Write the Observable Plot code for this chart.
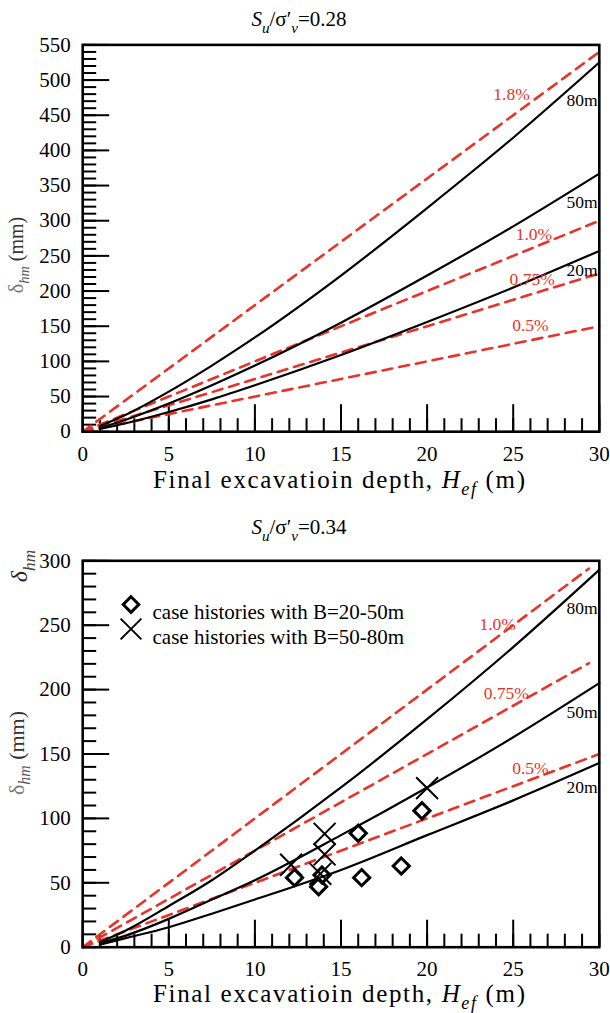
<!DOCTYPE html>
<html><head><meta charset="utf-8">
<script src="https://cdn.jsdelivr.net/npm/d3@7"></script>
<script src="https://cdn.jsdelivr.net/npm/@observablehq/plot@0.6"></script>
<style>
html,body{margin:0;padding:0;background:#fff;}
#wrap{position:relative;width:610px;height:1013px;overflow:hidden;}
#top,#bot{position:absolute;left:0;}
#top{top:0;} #bot{top:500px;}
</style></head><body><div id="wrap"><div id="top"></div><div id="bot"></div></div>
<script>
// ---------- data ----------
const depths = [1, 2.5, 5, 7.5, 10, 15, 20, 25, 30];
const widthLabels = ["80m", "50m", "20m"];
const topCurve80 = [8, 24, 57, 94, 134, 222, 318, 418, 525];
const topCurve50 = [5, 17, 40, 66, 94, 155, 222, 292, 367];
const topCurve20 = [4, 12, 28, 46, 66, 109, 156, 205, 257];
const botCurve80 = [4, 13, 32, 52, 75, 124, 177, 233, 293];
const botCurve50 = [3, 9, 22, 37, 52, 87, 124, 163, 205];
const botCurve20 = [2, 7, 15.5, 26, 37, 60, 87, 114, 143];

const topRatioLabels = ["1.8%", "1.0%", "0.75%", "0.5%"];
const topRatioEndH = [30, 30, 30, 30];
const topRatioEndD = [540, 300, 225, 150];
const botRatioLabels = ["1.0%", "0.75%", "0.5%"];
const botRatioEndH = [29.4, 29.4, 30];
const botRatioEndD = [294, 220.5, 150];

const diamondH = [12.3, 13.7, 13.9, 16.0, 16.2, 18.5, 19.7];
const diamondD = [54, 47, 56, 88.5, 54, 63, 106];
const crossH = [12.1, 14.05, 14.05, 13.8, 20.0];
const crossD = [64, 88, 72, 57, 123.5];
const legendLabels = ["case histories with B=20-50m", "case histories with B=50-80m"];

const topTitle = "0.28", botTitle = "0.34";
const xMajor = [0, 5, 10, 15, 20, 25, 30];
const yMajorTop = [0, 50, 100, 150, 200, 250, 300, 350, 400, 450, 500, 550];
const yMajorBot = [0, 50, 100, 150, 200, 250, 300];

// ---------- helpers ----------
const RED = "#e8332b";
const FONT = "'Liberation Serif','Times New Roman',serif";
const W = 610, ML = 82.2, MR = 11.2, PW = W - ML - MR;

function curveRows(arrs) {
  const rows = [];
  arrs.forEach((a, i) => a.forEach((d, j) => rows.push({B: widthLabels[i], H: depths[j], d})));
  return rows;
}
function ratioRows(labels, endH, endD) {
  const rows = [];
  labels.forEach((l, i) => { rows.push({r: l, H: 0, d: 0}); rows.push({r: l, H: endH[i], d: endD[i]}); });
  return rows;
}

function addRich(svg, x, y, parts, {size = 18, anchor = "middle", rotate = 0, fill = "black", textLength = null} = {}) {
  const g = d3.select(svg).append("g").attr("transform", `translate(${x},${y}) rotate(${rotate})`);
  const t = g.append("text").attr("text-anchor", anchor).attr("font-family", FONT)
    .attr("font-size", size).attr("fill", fill).attr("dy", "0.35em");
  if (textLength) t.attr("textLength", textLength).attr("lengthAdjust", "spacing");
  let shifted = 0;
  parts.forEach(p => {
    const ts = t.append("tspan").text(p.t);
    const target = p.sub ? size * 0.3 : 0;
    if (target !== shifted) { ts.attr("dy", target - shifted); shifted = target; }
    if (p.sub) ts.attr("font-size", size * 0.72);
    if (p.italic) ts.attr("font-style", "italic");
    if (p.fill) ts.attr("fill", p.fill);
    if (p.weight) ts.attr("font-weight", p.weight);
  });
}

function makeChart({height, mt, mb, yMax, yMajor, curves, ratios, redLabels, blackLabels, extra = []}) {
  const PH = height - mt - mb;
  const yMinor = d3.range(0, yMax + 1, 10);
  const xMinor = d3.range(0, 31, 1);
  return Plot.plot({
    width: W, height, marginLeft: ML, marginRight: MR, marginTop: mt, marginBottom: mb,
    style: {fontFamily: FONT, fontSize: "21px", color: "black", background: "white", overflow: "visible"},
    x: {domain: [0, 30]},
    y: {domain: [0, yMax]},
    marks: [
      Plot.tickY(yMinor, {y: d => d, insetRight: PW - 14, stroke: "black", strokeWidth: 2}),
      Plot.tickY(yMajor, {y: d => d, insetRight: PW - 27, stroke: "black", strokeWidth: 2}),
      Plot.tickX(xMinor, {x: d => d, insetTop: PH - 13, stroke: "black", strokeWidth: 2}),
      Plot.tickX(xMajor, {x: d => d, insetTop: PH - 27, stroke: "black", strokeWidth: 2}),
      Plot.line(ratios, {x: "H", y: "d", z: "r", stroke: RED, strokeWidth: 2.6, strokeDasharray: "10,7"}),
      Plot.line(curves, {x: "H", y: "d", z: "B", stroke: "black", strokeWidth: 2.2, curve: "monotone-x"}),
      Plot.text(redLabels, {x: "x", y: "y", text: "t", fill: RED, fontSize: 17.5, textAnchor: "middle"}),
      Plot.text(blackLabels, {x: 29.9, y: "y", text: "t", fill: "black", fontSize: 17.5, textAnchor: "end"}),
      ...extra,
      Plot.frame({stroke: "black", strokeWidth: 2.6}),
      Plot.axisY({ticks: yMajor, tickSize: 0, tickPadding: 12, fontSize: 21, label: null}),
      Plot.axisX({ticks: xMajor, tickSize: 0, tickPadding: 14, fontSize: 21, label: null})
    ]
  });
}

// ---------- top chart ----------
const topSvg = makeChart({
  height: 500, mt: 44.4, mb: 500 - 431.2, yMax: 550, yMajor: yMajorTop,
  curves: curveRows([topCurve80, topCurve50, topCurve20]),
  ratios: ratioRows(topRatioLabels, topRatioEndH, topRatioEndD),
  redLabels: [
    {t: topRatioLabels[0], x: 24.9, y: 480},
    {t: topRatioLabels[1], x: 26.2, y: 281},
    {t: topRatioLabels[2], x: 26.1, y: 217},
    {t: topRatioLabels[3], x: 26.0, y: 151}
  ],
  blackLabels: [
    {t: widthLabels[0], y: 471},
    {t: widthLabels[1], y: 326},
    {t: widthLabels[2], y: 229}
  ]
});
document.getElementById("top").append(topSvg);

// ---------- bottom chart ----------
const diamonds = diamondH.map((h, i) => ({H: h, d: diamondD[i]}));
const crosses = crossH.map((h, i) => ({H: h, d: crossD[i]}));
const BMT = 60.3;
const LX = 130.5, LY1 = 604, LY2 = 628.5;
const botSvg = makeChart({
  height: 513, mt: BMT, mb: 513 - 446.7, yMax: 300, yMajor: yMajorBot,
  curves: curveRows([botCurve80, botCurve50, botCurve20]),
  ratios: ratioRows(botRatioLabels, botRatioEndH, botRatioEndD),
  redLabels: [
    {t: botRatioLabels[0], x: 24.1, y: 251},
    {t: botRatioLabels[1], x: 24.6, y: 197},
    {t: botRatioLabels[2], x: 26.0, y: 138.5}
  ],
  blackLabels: [
    {t: widthLabels[0], y: 262.7},
    {t: widthLabels[1], y: 182.5},
    {t: widthLabels[2], y: 124.2}
  ],
  extra: [
    Plot.dot(diamonds, {x: "H", y: "d", symbol: "diamond2", r: 7.3, stroke: "black", strokeWidth: 3, fill: "none"}),
    Plot.dot(crosses, {x: "H", y: "d", symbol: "times", r: 10, stroke: "black", strokeWidth: 2}),
    Plot.dot([legendLabels[0]], {frameAnchor: "top-left", dx: LX - ML, dy: LY1 - 500 - BMT, symbol: "diamond2", r: 7, stroke: "black", strokeWidth: 3, fill: "none"}),
    Plot.dot([legendLabels[1]], {frameAnchor: "top-left", dx: LX - ML, dy: LY2 - 500 - BMT, symbol: "times", r: 9.5, stroke: "black", strokeWidth: 2}),
    Plot.text([legendLabels[0]], {frameAnchor: "top-left", dx: 152 - ML, dy: LY1 - 500 - BMT, text: d => d, textAnchor: "start", fontSize: 21}),
    Plot.text([legendLabels[1]], {frameAnchor: "top-left", dx: 152 - ML, dy: LY2 - 500 - BMT, text: d => d, textAnchor: "start", fontSize: 21})
  ]
});
document.getElementById("bot").append(botSvg);

// ---------- titles & axis labels ----------
function title(svg, y, val) {
  addRich(svg, 299, y, [
    {t: "S", italic: true}, {t: "u", sub: true, italic: true},
    {t: "/σ′"}, {t: "v", sub: true, italic: true}, {t: "=" + val}
  ], {size: 21});
}
function xLabel(svg, y) {
  addRich(svg, 339, y, [
    {t: "Final excavatioin depth, "}, {t: "H", italic: true},
    {t: "ef", sub: true, italic: true}, {t: " (m)"}
  ], {size: 25, textLength: 372});
}
function yLabel(svg, x, y, size) {
  addRich(svg, x, y, [
    {t: "δ", fill: "#777"}, {t: "hm", sub: true, italic: true, fill: "#555"}, {t: " (mm)", fill: "#333"}
  ], {size, rotate: -90});
}
title(topSvg, 19, topTitle);
xLabel(topSvg, 479);
yLabel(topSvg, 16, 255, 20);

title(botSvg, 27, botTitle);
xLabel(botSvg, 493);
yLabel(botSvg, 16, 253, 22);
addRich(botSvg, 19, 66, [
  {t: "δ", italic: true, fill: "#222"}, {t: "hm", sub: true, italic: true, fill: "#444"}
], {size: 24, rotate: -90});
</script></body></html>
